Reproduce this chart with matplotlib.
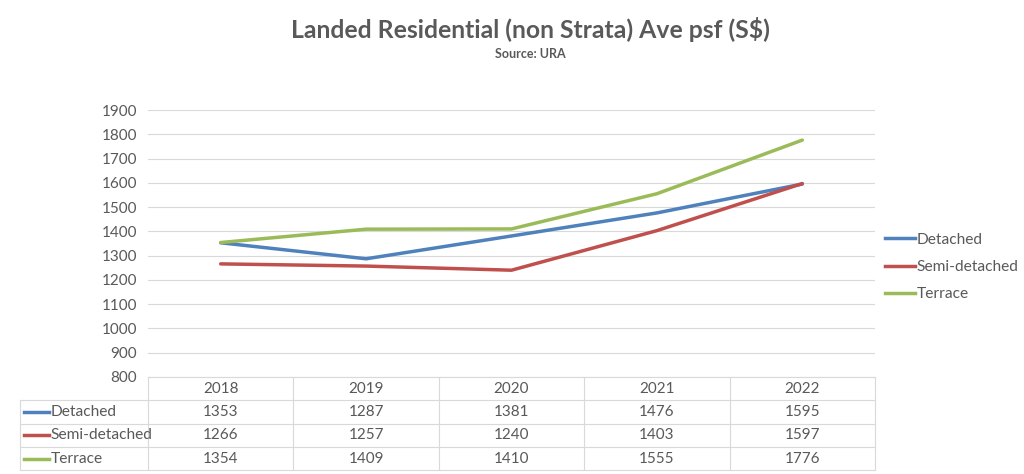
import matplotlib.pyplot as plt
from matplotlib.lines import Line2D

plt.rcParams['font.family'] = ['Lato', 'DejaVu Sans']

years = ["2018", "2019", "2020", "2021", "2022"]
detached = [1353, 1287, 1381, 1476, 1595]
semi_detached = [1266, 1257, 1240, 1403, 1597]
terrace = [1354, 1409, 1410, 1555, 1776]

series = [("Detached", detached, "#4F81BD"),
          ("Semi-detached", semi_detached, "#C0504D"),
          ("Terrace", terrace, "#9BBB59")]

txt = "#595959"
grid = "#D9D9D9"

fig = plt.figure(figsize=(10.24, 4.74), dpi=100)
ax = fig.add_axes([148 / 1024, 1 - 377 / 474, 727 / 1024, 267 / 474])

x = list(range(len(years)))
for name, vals, col in series:
    ax.plot(x, vals, color=col, lw=2.5, label=name, solid_capstyle="round")

ax.set_xlim(-0.5, len(years) - 0.5)
ax.set_ylim(800, 1900)
ax.set_yticks(range(800, 2000, 100))
ax.tick_params(axis="y", length=0, labelsize=11, labelcolor=txt, pad=8)
ax.set_xticks([])
ax.grid(axis="y", color=grid, lw=0.8)
ax.set_axisbelow(True)
for s in ["top", "right", "left"]:
    ax.spines[s].set_visible(False)
ax.spines["bottom"].set_color(grid)

# data table under the axis
row_h = 23.3 / 267  # in axes fraction
left_x = -0.5 - (148 - 20) / 727 * 5  # left edge of label column in data units
tr = ax.get_xaxis_transform()
n_rows = len(series) + 1
bottom = -row_h * n_rows
for r in range(1, n_rows + 1):
    y = -row_h * r
    ax.plot([left_x, len(years) - 0.5], [y, y], transform=tr,
            color=grid, lw=0.8, clip_on=False)
for c in range(len(years) + 1):
    ax.plot([c - 0.5, c - 0.5], [0, bottom], transform=tr, color=grid, lw=0.8, clip_on=False)
ax.plot([left_x, left_x], [-row_h, bottom], transform=tr, color=grid, lw=0.8, clip_on=False)

for i, yr in enumerate(years):
    ax.text(i, -row_h * 0.5, yr, transform=tr, ha="center", va="center",
            fontsize=11, color=txt)
for r, (name, vals, col) in enumerate(series, start=1):
    yc = -row_h * (r + 0.5)
    ax.plot([left_x + 0.03, left_x + 0.2], [yc, yc], transform=tr, color=col,
            lw=2.5, clip_on=False)
    ax.text(left_x + 0.21, yc, name, transform=tr, ha="left", va="center",
            fontsize=11.2, color=txt)
    for i, v in enumerate(vals):
        ax.text(i, yc, str(v), transform=tr, ha="center", va="center",
                fontsize=11, color=txt)

handles = [Line2D([], [], color=col, lw=2.5) for _, _, col in series]
fig.legend(handles, [s[0] for s in series], loc="center left",
           bbox_to_anchor=(876 / 1024, 1 - 267 / 474), frameon=False,
           fontsize=11.2, labelcolor=txt, handlelength=1.9, handletextpad=0.1,
           labelspacing=0.85, borderaxespad=0.2)

fig.text(530 / 1024, 1 - 30 / 474, "Landed Residential (non Strata) Ave psf (S$)",
         ha="center", va="center", fontsize=17.8, fontweight="bold", color=txt)
fig.text(530 / 1024, 1 - 54 / 474, "Source: URA", ha="center", va="center",
         fontsize=9, fontweight="bold", color=txt)

fig.savefig("out.png", dpi=100, facecolor="white")
